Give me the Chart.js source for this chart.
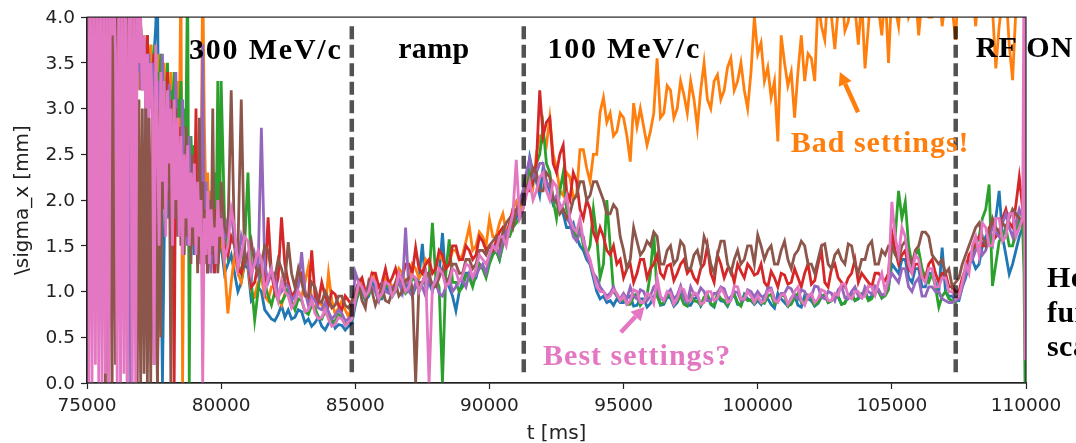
<!DOCTYPE html>
<html>
<head>
<meta charset="utf-8">
<script src="https://cdn.jsdelivr.net/npm/chart.js@4.4.1/dist/chart.umd.min.js"></script>
<style>
  html, body { margin: 0; padding: 0; background: #fff; }
  #wrap { width: 1076px; height: 443px; overflow: hidden; }
  canvas { display: block; }
</style>
</head>
<body>
<div id="wrap"><canvas id="c" width="1076" height="443" style="width:1076px;height:443px"></canvas></div>
<script>
// ---------------- data ----------------
// sample times [ms]: 62.5 ms during injection (75000-80000), 125 ms afterwards, fine at the very end
const T_SEGMENTS = [[75000, 79937.5, 62.5], [80000, 109875, 125], [109925, 110000, 37.5]];

const X_TICKS = [75000, 80000, 85000, 90000, 95000, 100000, 105000, 110000];
const Y_TICKS = [0.0, 0.5, 1.0, 1.5, 2.0, 2.5, 3.0, 3.5, 4.0];

// sigma_x [mm] per machine setting
const sBlue = [
  4.5,4.3,4.5,4.1,4.4,4.0,4.5,3.9,4.3,4.2, 4.4,3.8,4.2,4.0,4.5,3.9,4.3,3.7,4.1,3.8,
  4.0,3.6,4.2,3.7,3.9,3.5,4.1,3.6,3.8,3.4, 3.7,3.5,3.9,3.3,3.6,3.4,3.8,3.2,3.5,3.3,
  3.6,3.9,4.5,1.7,1.6,0,1.5,2.4,1.8,2.6, 1.9,2.5,1.7,2.3,1.8,2.6,1.6,2.2,1.7,2.4,
  1.5,2.1,1.6,2.0,1.4,2.2,1.5,1.9,1.3,1.8, 1.4,1.7,1.2,1.8,1.3,1.6,1.2,1.7,1.3,1.5,
  1.5,1.2,1.3,1.4,1.2,1.0,1.1,1.3,1.25,0.9, 0.95,1.05,1.0,0.8,0.75,0.7,0.68,0.75,0.85,0.72,
  0.8,0.7,0.72,0.8,0.78,0.66,0.7,0.62,0.66,0.72, 0.62,0.58,0.65,0.7,0.6,0.64,0.63,0.58,0.62,0.66,
  0.85,1.0,1.0,0.9,0.95,1.1,1.05,0.92,0.92,1.05, 1.0,0.95,1.08,1.15,0.98,1.05,1.1,0.95,1.05,1.15,
  1.52,1.05,1.1,1.0,1.15,1.2,1.64,1.1,1.05,0.95, 0.79,1.0,1.1,1.2,1.2,1.1,1.15,1.3,1.25,1.2,
  1.35,1.45,1.45,1.35,1.55,1.6,1.65,1.75,1.8,1.9, 2.0,2.2,2.47,2.3,2.2,2.05,2.35,2.2,2.1,1.95,
  2.0,1.9,1.85,1.7,1.7,1.75,1.6,1.5,1.45,1.35, 1.3,1.15,1.0,0.92,0.95,0.88,0.9,0.85,0.92,0.88,
  0.88,0.93,0.95,0.84,0.85,0.92,0.92,0.83,0.87,0.95, 0.98,0.85,0.86,0.94,0.93,0.84,0.88,0.97,0.96,0.85,
  0.85,0.92,0.94,0.84,0.9,0.95,0.86,0.83,0.95,0.9, 0.89,0.84,0.92,0.97,0.86,0.85,0.97,0.92,0.9,0.86,
  0.9,0.86,0.95,0.92,0.86,0.82,0.98,0.92,0.88,0.84, 0.93,0.96,0.85,0.83,0.96,0.92,0.9,0.84,0.87,0.94,
  0.97,0.88,0.9,0.95,0.94,0.86,0.88,0.96,0.98,0.9, 0.92,0.97,1.0,0.92,0.95,1.0,1.02,0.93,0.98,1.05,
  1.3,1.25,1.2,1.35,1.35,1.15,1.1,1.25,1.25,1.05, 1.05,1.2,1.2,1.1,1.0,1.48,1.0,0.95,0.95,0.9,
  0.9,1.05,1.15,1.3,1.35,1.25,1.3,1.5,1.6,1.55, 1.5,1.8,2.1,1.6,1.4,1.19,1.3,1.45,1.6,1.7,
  1.6,1.5,1.6
];
const sOrange = [
  4.5,4.1,4.4,3.9,4.5,4.0,4.3,3.8,4.2,4.0, 4.4,3.7,4.1,3.9,4.3,3.6,4.0,3.8,4.2,3.5,
  3.9,3.7,4.1,3.4,3.8,3.6,4.0,3.3,3.7,3.5, 3.9,3.2,3.6,3.4,3.8,3.1,3.5,3.3,3.7,3.0,
  3.4,3.2,3.6,2.9,3.3,3.1,3.5,2.8,3.2,3.0, 3.4,2.7,3.1,2.9,3.3,2.6,4.5,0,2.5,2.2,
  2.6,2.0,2.4,1.9,2.3,1.8,2.5,1.7,2.2,4.5, 2.8,1.9,2.3,1.6,2.1,1.5,1.9,1.4,1.8,1.5,
  1.6,1.3,0.76,1.1,1.4,1.2,1.1,1.35,1.3,1.0, 0.95,1.1,1.15,0.95,0.9,1.05,1.05,0.92,0.85,0.98,
  1.0,0.85,0.88,1.0,0.95,1.1,1.27,0.9,0.8,0.92, 0.85,0.78,1.2,0.9,0.75,0.82,0.9,0.8,0.72,0.85,
  0.95,1.05,1.1,1.0,1.05,1.2,1.15,1.05,1.0,1.15, 1.12,1.05,1.08,1.25,1.2,1.1,1.15,1.3,1.25,1.15,
  1.2,1.35,1.3,1.2,1.25,1.4,1.35,1.25,1.3,1.45, 1.45,1.35,1.4,1.55,1.71,1.45,1.5,1.65,1.6,1.5,
  1.79,1.6,1.6,1.75,1.85,1.65,1.7,1.9,1.98,1.85, 2.1,2.2,2.3,2.15,2.5,2.7,2.7,2.6,2.9,2.5,
  2.35,2.1,2.05,2.3,2.25,2.03,2.06,2.55,2.55,2.35, 2.2,2.5,2.5,2.96,3.12,2.85,2.95,2.7,2.75,2.95,
  2.9,2.7,2.42,3.06,2.8,3.0,2.8,2.6,2.75,2.95, 3.55,2.9,2.95,3.25,3.2,2.9,3.0,3.3,3.15,2.95,
  3.3,3.1,2.79,3.2,3.5,3.1,3.0,3.3,3.37,3.1, 3.2,3.45,3.55,3.2,3.3,3.5,3.2,3.0,3.4,4.0,
  3.6,3.72,3.3,3.45,3.12,3.3,2.64,3.8,3.5,3.25, 3.4,2.9,3.4,3.8,3.3,3.6,3.55,3.3,4.2,3.9,
  3.75,4.3,4.0,3.65,4.1,4.3,3.85,3.95,4.3,4.1, 3.7,4.2,3.44,3.9,4.4,4.3,4.1,3.8,4.3,3.5,
  4.3,4.1,3.9,4.4,4.4,4.0,4.1,4.3,3.8,4.2, 4.3,4.0,4.0,4.4,4.4,3.9,4.2,4.5,4.1,3.75,
  4.5,4.2,4.1,4.3,4.3,3.9,4.4,4.2,4.2,4.2, 4.1,3.44,3.9,4.2,4.3,3.7,3.31,4.1,4.3,4.4,
  4.3,4.2,4.4
];
const sGreen = [
  4.5,4.2,4.4,4.0,4.5,3.9,4.3,4.1,4.4,3.8, 4.2,4.0,4.4,3.7,4.1,3.9,4.3,3.6,4.0,3.8,
  4.2,3.5,3.9,3.7,4.1,3.4,3.8,3.6,4.0,3.3, 3.7,3.5,3.9,3.2,3.6,3.4,3.8,3.1,3.5,3.3,
  3.7,3.0,3.4,3.2,3.6,2.9,3.3,3.1,3.5,2.8, 3.2,3.0,3.4,2.7,3.1,2.9,3.3,2.6,3.0,2.8,
  4.5,0,2.7,2.2,2.6,1.9,2.4,2.0,2.5,1.8, 2.2,1.7,2.1,1.6,2.0,1.8,2.3,1.7,3.3,1.5,
  3.3,1.8,1.4,1.6,1.6,1.3,1.2,1.5,2.3,1.1, 0.69,1.0,1.3,1.1,0.95,0.85,1.0,0.9,0.88,0.95,
  1.05,0.9,0.8,0.92,0.9,0.78,0.75,0.85,0.82,0.72, 0.7,0.78,0.74,0.66,0.68,0.75,0.72,0.65,0.66,0.7,
  0.88,0.98,1.02,0.92,0.97,1.05,1.0,0.9,0.95,1.08, 1.05,0.95,1.0,1.12,1.1,0.98,1.02,1.15,1.12,1.0,
  1.08,1.2,1.15,1.75,1.15,1.05,0,1.2,1.57,1.1, 1.1,1.0,1.05,1.18,1.15,1.05,1.2,1.3,1.25,1.15,
  1.3,1.4,1.45,1.35,1.5,1.6,1.6,1.7,1.75,1.8, 1.9,2.1,2.3,2.2,2.4,2.5,2.8,2.4,2.3,2.0,
  1.8,2.1,2.3,1.9,1.75,1.65,1.6,1.7,1.5,1.4, 1.5,1.9,1.6,1.15,1.3,2.0,1.5,1.0,0.95,0.9,
  0.92,0.86,0.86,0.95,0.98,0.85,0.9,0.96,1.2,1.65, 0.95,0.86,0.88,0.95,0.97,0.86,0.9,0.95,0.86,0.84,
  0.96,0.9,0.89,0.85,0.94,0.97,0.87,0.84,0.98,0.92, 0.9,0.85,0.93,0.97,0.88,0.84,0.95,0.9,0.91,0.87,
  0.93,0.88,0.87,0.95,0.97,0.86,0.9,0.96,0.95,0.84, 0.86,0.93,0.98,0.88,0.9,0.96,0.93,0.85,0.88,0.95,
  0.96,0.88,0.9,0.97,0.95,0.86,0.87,0.95,0.97,0.9, 0.93,0.98,0.99,0.9,0.92,1.0,1.0,0.93,0.95,1.02,
  1.5,1.6,2.1,1.8,1.98,1.5,1.3,1.4,1.45,1.25, 1.15,1.1,1.2,1.05,0.83,0.95,1.0,0.92,0.9,0.88,
  0.95,1.1,1.2,1.3,1.4,1.5,1.6,1.8,1.9,2.17, 1.06,1.3,1.55,1.6,1.7,1.5,1.5,1.65,1.8,1.7,
  1.2,0,0
];
const sRed = [
  4.5,4.2,4.4,4.0,4.5,3.9,4.3,4.1,4.5,3.8, 4.2,3.9,4.4,3.7,4.1,3.8,4.3,3.6,4.0,3.9,
  4.2,3.5,3.9,3.7,4.1,3.4,3.8,3.6,4.0,3.3, 3.7,3.5,3.9,3.2,3.6,3.4,3.8,3.1,3.5,3.3,
  3.6,1.6,0,1.4,3.2,2.5,3.0,2.2,3.4,2.0, 3.1,2.4,0,3.1,2.3,2.8,1.9,2.7,1.7,2.5,
  1.6,2.4,1.5,2.2,1.8,3.0,1.4,2.1,1.3,1.9, 1.5,2.0,1.2,1.8,1.4,1.7,1.2,1.9,1.3,1.6,
  1.9,1.5,1.4,1.6,1.5,1.25,1.2,1.4,1.35,1.05, 1.1,1.3,1.25,1.05,1.81,1.2,1.0,1.15,1.81,1.3,
  1.1,0.95,1.0,1.15,1.2,1.0,0.9,1.45,0.95,0.88, 1.1,0.95,0.85,1.0,0.97,0.85,0.8,0.95,0.9,0.85,
  0.95,1.1,1.15,1.0,1.05,1.2,1.2,1.05,1.1,1.25, 1.08,1.15,1.25,1.1,1.15,1.3,1.3,1.2,1.48,1.25,
  1.2,1.3,1.35,1.2,1.25,1.45,1.4,1.25,1.3,1.5, 1.5,1.35,1.35,1.5,1.45,1.35,1.4,1.6,1.55,1.45,
  1.5,1.45,1.55,1.65,1.7,1.6,1.75,1.9,1.85,2.0, 2.0,2.1,2.1,2.2,2.4,3.2,2.7,2.85,2.9,2.4,
  2.3,2.5,2.6,2.1,2.0,2.3,2.2,1.9,1.8,2.0, 1.9,1.65,1.55,1.7,1.6,1.45,1.4,1.5,1.3,1.35,
  1.15,1.25,1.3,1.1,1.2,1.35,1.35,1.15,1.25,1.3, 1.4,1.2,1.15,1.28,1.3,1.12,1.2,1.3,1.35,1.2,
  1.25,1.15,1.1,1.25,1.3,1.5,1.2,1.1,1.4,1.3, 1.15,1.25,1.25,1.1,1.3,1.22,1.15,1.3,1.25,1.18,
  1.2,1.3,1.1,1.05,1.22,1.15,1.05,1.2,1.18,1.08, 1.1,1.25,1.15,1.05,1.2,1.3,1.08,1.12,1.3,1.45,
  1.1,1.05,1.25,1.3,1.15,1.1,1.05,1.15,1.2,1.35, 1.1,1.2,1.15,1.1,1.05,1.2,1.2,1.15,1.12,1.2,
  1.65,1.45,1.3,1.4,1.45,1.25,1.2,1.3,1.3,1.15, 1.15,1.3,1.35,1.2,1.1,1.2,1.2,1.05,1.05,1.0,
  1.0,1.15,1.25,1.4,1.45,1.55,1.6,1.5,1.5,1.7, 1.75,1.6,1.65,1.8,1.9,1.75,1.7,1.95,2.25,1.9,
  2.0,1.9,2.0
];
const sPurple = [
  4.5,4.0,4.5,3.8,4.3,3.7,4.4,3.9,4.2,3.6, 4.1,3.8,4.4,3.5,4.0,3.7,4.3,3.6,3.9,3.4,
  4.0,3.6,3.8,3.5,0,4.5,0,3.7,3.3,3.8, 3.4,3.9,3.2,3.7,3.5,3.1,0.2,3.6,3.0,3.5,
  2.9,3.4,2.7,3.3,2.5,3.6,2.3,3.0,2.1,3.27, 2.0,2.8,1.8,3.4,1.7,2.6,1.9,3.1,1.6,2.5,
  1.5,2.7,1.4,2.3,1.6,2.0,1.3,2.4,1.5,3.7, 1.4,2.2,1.3,1.9,1.2,2.1,1.4,1.8,1.3,1.9,
  2.0,1.6,1.8,1.9,1.5,1.3,1.6,1.45,1.3,1.15, 1.4,1.2,2.79,1.3,1.1,1.2,1.2,0.95,1.0,1.1,
  1.05,0.9,0.95,1.05,1.43,1.0,0.85,0.95,0.9,0.82, 0.8,0.88,0.78,0.7,0.74,0.8,0.76,0.68,0.7,0.75,
  1.21,1.1,1.05,0.95,1.1,1.05,1.0,0.9,1.08,1.0, 0.98,1.05,1.05,1.12,1.0,1.7,1.0,0.95,1.1,1.05,
  1.05,0.95,1.15,1.08,1.1,0.98,0.95,1.05,1.15,1.0, 1.05,1.12,1.12,1.05,1.2,1.15,1.18,1.25,1.3,1.2,
  1.4,1.5,1.5,1.4,1.55,1.65,1.7,1.8,1.85,2.0, 2.1,2.3,2.45,2.25,2.3,2.4,2.4,2.2,2.15,2.0,
  2.05,1.95,1.9,1.8,1.75,1.6,1.55,1.65,1.6,1.4, 1.3,1.2,1.15,1.05,1.0,0.95,0.98,1.05,0.95,0.92,
  0.98,0.92,1.05,0.95,0.92,1.02,1.0,0.9,0.95,1.05, 1.08,0.93,0.9,0.98,1.02,0.92,0.96,1.06,0.92,0.88,
  1.05,0.97,0.95,1.04,1.0,0.9,0.9,0.98,0.98,1.05, 1.03,0.92,0.94,1.0,0.99,0.9,0.91,1.02,1.0,0.94,
  1.0,0.95,0.93,1.04,1.04,0.92,0.9,0.98,0.98,1.05, 1.03,0.95,0.92,1.02,1.0,0.92,0.95,1.06,1.05,0.94,
  0.92,1.0,0.98,0.9,1.02,1.06,0.93,0.92,1.0,1.05, 0.95,0.93,1.05,1.0,0.97,1.06,1.02,0.96,0.98,1.1,
  1.2,1.15,1.1,1.25,1.25,1.05,1.0,1.1,1.15,0.95, 0.95,1.05,1.05,1.0,1.0,0.92,0.9,0.88,0.88,0.9,
  0.92,1.05,1.2,1.3,1.35,1.45,1.5,1.4,1.45,1.6, 1.7,1.65,1.6,1.75,1.85,1.7,1.6,1.75,1.9,1.8,
  1.75,1.8,1.7
];
const sBrown = [
  4.5,3.8,4.5,3.9,4.5,3.7,4.5,4.0,4.5,3.6, 4.5,0,4.5,0,4.5,0,4.5,0.2,4.5,3.9,
  3.5,4.2,3.4,3.9,3.6,4.1,3.3,3.8,3.5,4.0, 0,3.1,0,3.0,0.1,3.2,0,2.9,0,3.0,
  0.2,3.2,0,3.0,0.5,2.8,1.9,3.1,2.2,2.9, 0,2.7,1.8,3.0,1.6,2.6,1.5,2.4,1.4,2.8,
  1.6,2.3,1.3,2.5,1.5,2.1,1.2,2.9,1.4,2.2, 1.3,1.9,1.2,2.0,1.4,3.0,1.3,1.8,1.2,1.6,
  2.2,1.7,1.6,3.2,1.5,1.45,3.1,1.3,1.4,1.55, 1.3,1.2,1.3,1.5,1.45,1.2,1.15,1.35,1.25,1.1,
  1.54,1.2,1.05,1.25,1.1,0.95,0.95,1.1,1.05,0.9, 0.88,1.0,0.92,0.82,0.85,0.95,0.95,0.85,0.82,0.9,
  1.0,1.1,0.9,0.82,1.1,1.0,0.85,0.95,1.05,0.9, 0.88,1.0,1.1,0.95,1.0,1.12,1.15,1.05,0,1.1,
  1.1,1.2,1.2,1.05,1.05,1.15,1.25,1.1,1.15,1.3, 1.3,1.2,1.2,1.35,1.35,1.25,1.3,1.45,1.45,1.4,
  1.5,1.55,1.6,1.5,1.65,1.75,1.8,1.7,1.9,1.95, 2.0,2.15,2.2,2.35,2.3,2.1,2.1,2.3,2.25,2.0,
  2.0,1.85,1.9,1.8,1.85,2.0,2.05,2.2,2.2,2.0, 2.05,2.2,2.2,2.1,2.0,1.85,1.85,1.95,1.9,1.6,
  1.45,1.25,1.35,1.7,1.55,1.4,1.45,1.55,1.5,1.65, 1.6,1.3,1.3,1.45,1.5,1.3,1.35,1.55,1.5,1.25,
  1.25,1.4,1.45,1.3,1.6,1.5,1.3,1.2,1.4,1.55, 1.55,1.3,1.2,1.35,1.45,1.3,1.35,1.5,1.5,1.3,
  1.62,1.5,1.35,1.45,1.5,1.3,1.3,1.45,1.55,1.35, 1.25,1.4,1.45,1.55,1.5,1.3,1.3,1.2,1.35,1.5,
  1.52,1.3,1.25,1.4,1.45,1.35,1.3,1.52,1.5,1.3, 1.2,1.35,1.35,1.5,1.55,1.3,1.3,1.45,1.4,1.5,
  1.5,1.4,1.35,1.5,1.55,1.4,1.3,1.45,1.5,1.65, 1.65,1.6,1.4,1.35,1.3,1.35,1.2,1.25,1.05,1.1,
  1.15,1.3,1.4,1.5,1.6,1.7,1.75,1.6,1.5,1.65, 1.8,1.7,1.65,1.75,1.7,1.8,1.9,1.85,1.8,1.75,
  1.8,1.7,1.8
];
const sPink = [
  4.5,0,4.5,0,4.5,0.2,4.5,0,4.5,0, 4.5,0.1,4.5,0,4.5,3.8,4.3,3.6,0,4.5,
  0,4.5,0.1,4.5,0,3.9,4.4,0,4.5,0, 4.5,3.5,4.0,3.2,3.8,3.0,3.6,2.9,3.5,3.1,
  0.2,3.7,2.8,1.5,3.4,2.2,3.3,1.6,3.2,2.4, 3.0,1.5,3.1,2.0,2.9,1.6,2.7,1.4,2.5,1.8,
  2.6,1.5,2.3,1.7,2.4,1.4,2.2,1.6,2.0,0, 1.8,1.4,2.1,1.3,1.9,1.5,1.7,1.3,2.0,1.6,
  1.8,1.35,1.5,1.9,1.7,1.25,1.4,1.6,1.55,1.2, 1.3,1.45,1.35,1.0,1.15,1.25,1.05,0.9,1.12,1.0,
  0.95,0.82,0.88,1.0,0.92,0.78,0.8,0.9,0.76,0.7, 0.72,0.8,0.7,0.62,0.64,0.72,0.7,0.63,0.66,0.7,
  0.9,1.1,1.05,0.95,1.0,1.15,1.1,0.92,0.98,1.1, 1.08,0.95,1.02,1.2,1.12,1.0,1.05,1.18,1.15,1.0,
  1.1,1.2,0,1.05,1.12,1.25,1.2,1.05,1.1,1.25, 1.22,1.1,1.18,1.3,1.28,1.15,1.25,1.4,1.35,1.3,
  1.4,1.5,1.45,1.6,1.6,1.5,1.7,1.85,2.44,1.8, 1.9,2.05,2.2,2.0,2.1,2.25,2.3,2.1,2.0,2.2,
  2.15,1.9,1.95,2.05,1.8,1.7,1.65,1.8,1.55,1.45, 1.35,1.2,1.05,1.0,1.0,0.92,0.95,1.02,0.98,0.9,
  0.95,0.86,0.9,1.02,1.0,0.88,0.88,0.98,0.96,0.87, 1.15,0.95,0.9,1.0,0.98,0.86,0.92,1.04,1.02,0.9,
  0.9,0.99,0.97,0.86,0.88,1.0,1.0,0.9,0.93,1.03, 0.98,0.88,0.9,1.06,1.05,0.92,0.92,1.0,0.95,0.88,
  0.95,0.88,0.9,1.0,1.02,0.9,0.88,0.96,0.97,0.86, 0.92,1.0,1.05,0.9,0.85,0.95,0.98,0.88,0.92,1.02,
  1.0,0.9,0.9,0.98,0.96,1.08,1.08,0.95,0.92,1.0, 1.0,0.93,0.95,1.06,1.05,0.96,1.1,1.2,1.0,1.15,
  1.98,1.6,1.4,1.7,1.6,1.3,1.2,1.4,1.35,1.15, 1.1,1.25,1.25,1.05,1.05,1.15,1.15,1.0,1.0,0.92,
  0.95,1.1,1.3,1.2,1.5,1.6,1.4,1.75,1.7,1.5, 1.5,1.8,1.8,1.55,1.6,1.85,1.85,1.6,1.7,1.8,
  4.5,0.25,4.5
];

// phase boundaries [ms] and annotation texts
const PHASE_LINES = [84870, 91280, 107380];
const PHASE_LABELS = [
  { text: '300 MeV/c', t: 78800, v: 3.545, ls: 1.8 },
  { text: 'ramp',      t: 86600, v: 3.555, ls: 0.3 },
  { text: '100 MeV/c', t: 92160, v: 3.555, ls: 1.8 },
  { text: 'RF ON',     t: 108130, v: 3.565, ls: 1.0 }
];
const SIDE_LINES = [
  { text: 'How', v: 1.046 },
  { text: 'further', v: 0.665 },
  { text: 'scan', v: 0.295 }
];

// ---------------- chart ----------------
const t = [];
for (const [a, b, s] of T_SEGMENTS) for (let v = a; v <= b + 1e-6; v += s) t.push(v);

const SERIES = [
  { color: '#1f77b4', values: sBlue },
  { color: '#ff7f0e', values: sOrange },
  { color: '#2ca02c', values: sGreen },
  { color: '#d62728', values: sRed },
  { color: '#9467bd', values: sPurple },
  { color: '#8c564b', values: sBrown },
  { color: '#e377c2', values: sPink }
];

const datasets = SERIES.map((s, i) => ({
  data: t.map((tv, k) => ({ x: tv, y: s.values[k] })),
  borderColor: s.color,
  backgroundColor: s.color,
  borderWidth: 2.8,
  pointRadius: 0,
  tension: 0,
  fill: false,
  clip: 0,
  order: SERIES.length - i
}));

function arrow(ctx, x0, y0, x1, y1, color) {
  const ang = Math.atan2(y1 - y0, x1 - x0);
  const hl = 13, hw = 7;
  const bx = x1 - hl * Math.cos(ang), by = y1 - hl * Math.sin(ang);
  ctx.strokeStyle = color; ctx.fillStyle = color;
  ctx.lineWidth = 4.5; ctx.setLineDash([]); ctx.lineCap = 'butt';
  ctx.beginPath(); ctx.moveTo(x0, y0); ctx.lineTo(bx, by); ctx.stroke();
  ctx.beginPath();
  ctx.moveTo(x1, y1);
  ctx.lineTo(bx + hw * Math.sin(ang), by - hw * Math.cos(ang));
  ctx.lineTo(bx - hw * Math.sin(ang), by + hw * Math.cos(ang));
  ctx.closePath(); ctx.fill();
}

const annot = {
  id: 'annot',
  afterDatasetsDraw(chart) {
    const { ctx, chartArea: a, scales: { x, y } } = chart;
    ctx.save();
    ctx.setLineDash([13, 5.5]);
    ctx.lineWidth = 4.5;
    ctx.strokeStyle = 'rgba(0,0,0,0.68)';
    for (const v of PHASE_LINES) {
      const px = x.getPixelForValue(v);
      ctx.beginPath();
      ctx.moveTo(px, y.getPixelForValue(3.9));
      ctx.lineTo(px, y.getPixelForValue(0.1));
      ctx.stroke();
    }
    ctx.setLineDash([]);
    ctx.strokeStyle = '#222';
    ctx.lineWidth = 1.2;
    ctx.strokeRect(a.left, a.top, a.right - a.left, a.bottom - a.top);

    ctx.textBaseline = 'alphabetic';
    ctx.textAlign = 'left';
    ctx.font = 'bold 30px "Liberation Serif"';
    const hasLS = 'letterSpacing' in ctx;
    ctx.fillStyle = '#000';
    for (const l of PHASE_LABELS) {
      if (hasLS) ctx.letterSpacing = l.ls + 'px';
      ctx.fillText(l.text, x.getPixelForValue(l.t), y.getPixelForValue(l.v));
    }
    if (hasLS) ctx.letterSpacing = '1px';
    ctx.fillStyle = '#ff7f0e';
    ctx.fillText('Bad settings!', x.getPixelForValue(101230), y.getPixelForValue(2.52));
    ctx.fillStyle = '#e377c2';
    ctx.fillText('Best settings?', x.getPixelForValue(92000), y.getPixelForValue(0.2));
    ctx.fillStyle = '#000';
    if (hasLS) ctx.letterSpacing = '0.5px';
    const sideX = x.getPixelForValue(110780);
    for (const s of SIDE_LINES) ctx.fillText(s.text, sideX, y.getPixelForValue(s.v));
    if (hasLS) ctx.letterSpacing = '0px';

    arrow(ctx, x.getPixelForValue(103740), y.getPixelForValue(2.96),
               x.getPixelForValue(103060), y.getPixelForValue(3.40), '#ff7f0e');
    arrow(ctx, x.getPixelForValue(94900), y.getPixelForValue(0.555),
               x.getPixelForValue(95780), y.getPixelForValue(0.83), '#e377c2');

    ctx.fillStyle = '#222';
    ctx.font = '20px "DejaVu Sans"';
    ctx.textAlign = 'center';
    ctx.fillText('t [ms]', (a.left + a.right) / 2, 439);
    ctx.translate(28, (a.top + a.bottom) / 2);
    ctx.rotate(-Math.PI / 2);
    ctx.fillText('\\sigma_x [mm]', 0, 0);
    ctx.restore();
  }
};

new Chart(document.getElementById('c'), {
  type: 'line',
  data: { datasets },
  options: {
    responsive: false,
    devicePixelRatio: 1,
    animation: false,
    events: [],
    layout: { padding: { left: 0, right: 50, top: 16, bottom: 0 } },
    plugins: { legend: { display: false }, tooltip: { enabled: false } },
    scales: {
      x: {
        type: 'linear', min: X_TICKS[0], max: X_TICKS[X_TICKS.length - 1],
        afterFit: s => { s.height = 60; },
        afterBuildTicks: s => { s.ticks = X_TICKS.map(v => ({ value: v })); },
        grid: { display: true, drawOnChartArea: false, drawTicks: true, tickLength: 6, tickColor: '#222', tickWidth: 1.2 },
        border: { display: true, color: '#222', width: 1.2 },
        ticks: { color: '#222', font: { family: 'DejaVu Sans', size: 18.5 }, padding: 6, maxRotation: 0, autoSkip: false,
                 callback: v => String(v) }
      },
      y: {
        type: 'linear', min: 0, max: 4,
        afterFit: s => { s.width = 87; },
        afterBuildTicks: s => { s.ticks = Y_TICKS.map(v => ({ value: v })); },
        grid: { display: true, drawOnChartArea: false, drawTicks: true, tickLength: 6, tickColor: '#222', tickWidth: 1.2 },
        border: { display: true, color: '#222', width: 1.2 },
        ticks: { color: '#222', font: { family: 'DejaVu Sans', size: 18.5 }, padding: 6, labelOffset: 1,
                 callback: v => v.toFixed(1) }
      }
    }
  },
  plugins: [annot]
});
</script>
</body>
</html>
